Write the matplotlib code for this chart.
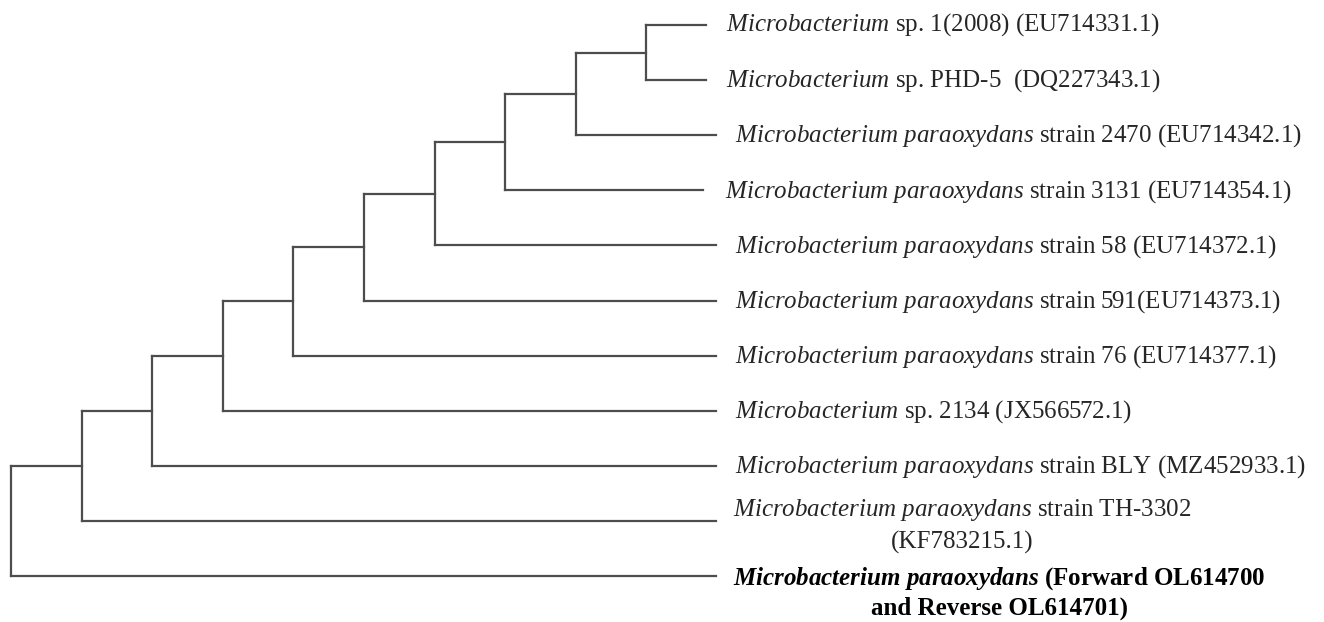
"""
Cladogram of Microbacterium 16S rRNA sequences (ladder topology).
"""

import matplotlib.pyplot as plt

# --------------------------------------------------
# Data
# --------------------------------------------------
# leaves from top to bottom: italic name part, plain part
taxon_italic = [
    "Microbacterium",
    "Microbacterium",
    "Microbacterium paraoxydans",
    "Microbacterium paraoxydans",
    "Microbacterium paraoxydans",
    "Microbacterium paraoxydans",
    "Microbacterium paraoxydans",
    "Microbacterium",
    "Microbacterium paraoxydans",
    "Microbacterium paraoxydans",
    "Microbacterium paraoxydans",
]
taxon_plain = [
    "sp. 1(2008) (EU714331.1)",
    "sp. PHD-5  (DQ227343.1)",
    "strain 2470 (EU714342.1)",
    "strain 3131 (EU714354.1)",
    "strain 58 (EU714372.1)",
    "strain 591(EU714373.1)",
    "strain 76 (EU714377.1)",
    "sp. 2134 (JX566572.1)",
    "strain BLY (MZ452933.1)",
    "strain TH-3302\n(KF783215.1)",
    "(Forward OL614700\nand Reverse OL614701)",
]
query_leaf = 10  # the sequenced isolate, shown in bold

# ladder tree: internal node k sits at depth k and joins node k+1 with this leaf
ladder_leaf = [10, 9, 8, 7, 6, 5, 4, 3, 2]
top_pair = (0, 1)  # deepest node joins these two leaves
# depth where each leaf branch ends
tip_depth = [9.84, 9.84, 9.98, 9.80, 9.98, 9.98, 9.98, 9.98, 9.98, 9.99, 9.99]

# --------------------------------------------------
# Layout
# --------------------------------------------------
n_leaf = len(taxon_italic)
n_node = len(ladder_leaf) + 1
leaf_y = list(range(n_leaf))

node_y = [0.0] * n_node
node_y[-1] = (leaf_y[top_pair[0]] + leaf_y[top_pair[1]]) / 2
for k in range(n_node - 2, -1, -1):
    node_y[k] = (node_y[k + 1] + leaf_y[ladder_leaf[k]]) / 2

plt.rcParams["mathtext.fontset"] = "custom"
plt.rcParams["mathtext.rm"] = "Liberation Serif"
plt.rcParams["mathtext.it"] = "Liberation Serif:italic"
plt.rcParams["mathtext.bf"] = "Liberation Serif:bold"
plt.rcParams["mathtext.bfit"] = "Liberation Serif:italic:bold"

fig = plt.figure(figsize=(13.24, 6.22), dpi=100)
ax = fig.add_axes([0, 0, 1, 1])
ax.set_xlim(-0.156, 18.6)
ax.set_ylim(10.835, -0.454)
ax.axis("off")

line_kw = dict(color="#4d4d4d", lw=1.6, solid_capstyle="projecting")

# --------------------------------------------------
# Branches
# --------------------------------------------------
for k in range(n_node):
    if k == n_node - 1:
        kids = [(tip_depth[i], leaf_y[i]) for i in top_pair]
    else:
        leaf = ladder_leaf[k]
        kids = [(k + 1, node_y[k + 1]), (tip_depth[leaf], leaf_y[leaf])]
    ys = [y for _, y in kids]
    ax.plot([k, k], [min(ys), max(ys)], **line_kw)
    for x_end, y in kids:
        ax.plot([k, x_end], [y, y], **line_kw)

# --------------------------------------------------
# Labels
# --------------------------------------------------
label_gap = [14.5, 14.5, 14, 16, 14, 14, 14, 14, 14, 12, 12]
label_dy = [0, -0.5, -0.5, -1, -0.5, -0.5, -0.5, -0.5, -0.5, -3, -12]
line_gap = {9: 1.45, 10: 1.3}

for i in range(n_leaf):
    name = taxon_italic[i].replace(" ", r"\ ")
    plain = taxon_plain[i]
    if i == query_leaf:
        first, second = plain.split("\n")
        txt = r"$\mathbfit{" + name + "}$ " + first + "\n" + second
        kw = dict(fontweight="bold", color="black")
    else:
        txt = r"$\mathit{" + name + "}$ " + plain
        kw = dict(color="#262626")
    ax.annotate(
        txt,
        xy=(tip_depth[i], leaf_y[i]),
        xytext=(label_gap[i], label_dy[i]),
        textcoords="offset points",
        ha="left",
        va="center",
        multialignment="center",
        linespacing=line_gap.get(i, 1.2),
        fontsize=18,
        family="Liberation Serif",
        **kw,
    )

fig.savefig("out.png", dpi=100, facecolor="white")
